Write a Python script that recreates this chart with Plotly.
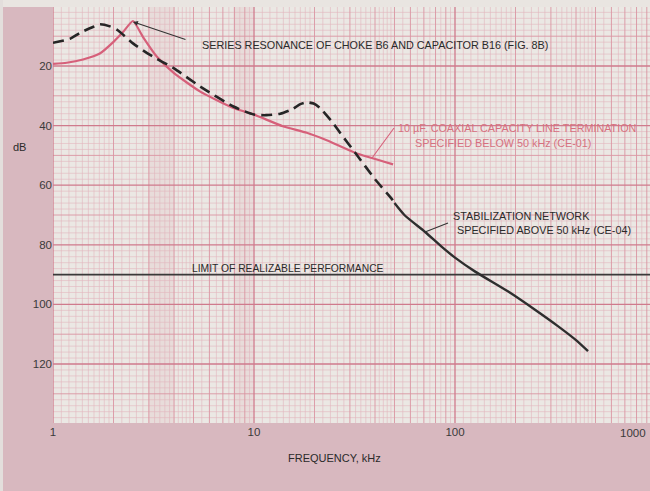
import numpy as np
import plotly.graph_objects as go

# ---------------- data ----------------
dashed_freq = [1, 1.22, 1.36, 1.58, 1.71, 1.92, 2.1, 2.5, 3.04, 4.0, 5.4, 7.9, 10,
               11.5, 13.5, 15.6, 17.0, 18.3, 19.8, 21.3, 24.7, 26.8, 31.8, 40, 48.6, 50]
dashed_db = [12.2, 10.8, 8.9, 6.9, 6.0, 6.7, 8.0, 12.4, 16.3, 20.8, 26.9, 33.6, 36.3,
             36.5, 36.0, 34.4, 32.8, 32.2, 32.6, 34.1, 39.1, 42.4, 49.0, 58.0, 64.7, 66.0]

solid_freq = [50, 56, 71, 86, 100, 126, 184, 250, 325, 400, 459]
solid_db = [66.0, 70.0, 75.7, 80.7, 84.3, 89.0, 95.7, 101.8, 107.3, 112.0, 115.7]

coax_freq = [1, 1.17, 1.41, 1.71, 2.0, 2.23, 2.5, 2.8, 3.29, 4.0, 5.4, 7.9, 10,
             13.9, 18.3, 23.0, 31.8, 49.2]
coax_db = [19.3, 18.9, 17.8, 15.8, 11.9, 8.6, 4.9, 10.2, 16.9, 22.4, 28.6, 34.1, 36.3,
           40.2, 42.4, 44.9, 49.1, 53.0]

limit_db = 90
x_tick_vals = [1, 10, 100]
x_tick_text = ["1", "10", "100"]
y_tick_vals = [20, 40, 60, 80, 100, 120]
y_tick_text = ["20", "40", "60", "80", "100", "120"]

# ---------------- geometry helpers ----------------
W, H = 650, 491
L, R, T, B = 53, 0, 7, 68
PW, PH = W - L - R, H - T - B
XMAX_LOG = PW / 201.0
Y_TOP, Y_BOT = 0.2, 139.8


def px(x):
    return (x - L) / PW


def py(y):
    return (H - B - y) / PH


fig = go.Figure()

# ---------------- graph paper grid ----------------
def vlines(vals):
    xs, ys = [], []
    for v in vals:
        xs += [v, v, None]
        ys += [Y_BOT, Y_TOP, None]
    return xs, ys


def hlines(vals):
    xs, ys = [], []
    for v in vals:
        xs += [1, 10 ** XMAX_LOG, None]
        ys += [v, v, None]
    return xs, ys


minor_m = [m for m in np.arange(1.1, 2.0, 0.1)]
minor_m += [m for m in np.arange(2.2, 5.0, 0.2) if abs(m - round(m)) > 0.05]
minor_m += [m for m in np.arange(5.5, 10.0, 1.0)]
medium_m = [2, 3, 4, 5, 6, 7, 8, 9]
decades = [1, 10, 100]

v_minor = [d * m for d in decades for m in minor_m]
v_medium = [d * m for d in decades for m in medium_m]
v_major = [1, 10, 100, 1000]

h_minor = [v for v in range(0, 142, 2) if v % 10]
h_medium = [v for v in range(10, 142, 20)]
h_major = [v for v in range(0, 142, 20)]

grid_specs = [
    (vlines(v_minor), "#e3b6be", 0.6),
    (hlines(h_minor), "#e3b6be", 0.6),
    (vlines(v_medium), "#da95a3", 0.9),
    (hlines(h_medium), "#da95a3", 0.9),
    (vlines(v_major), "#cf7a8c", 1.3),
    (hlines(h_major), "#cf7a8c", 1.3),
]
for (xs, ys), col, w in grid_specs:
    fig.add_trace(go.Scatter(x=xs, y=ys, mode="lines", line=dict(color=col, width=w),
                             hoverinfo="skip", showlegend=False))

# ---------------- data curves ----------------
fig.add_trace(go.Scatter(x=[1, 10 ** XMAX_LOG], y=[limit_db, limit_db], mode="lines",
                         line=dict(color="#3a3a3a", width=1.6), showlegend=False))
fig.add_trace(go.Scatter(x=coax_freq, y=coax_db, mode="lines",
                         line=dict(color="#d6607a", width=2.2, shape="spline", smoothing=0.5),
                         showlegend=False))
fig.add_trace(go.Scatter(x=dashed_freq, y=dashed_db, mode="lines",
                         line=dict(color="#262626", width=2.6, dash="11px,6px",
                                   shape="spline", smoothing=0.6),
                         showlegend=False))
fig.add_trace(go.Scatter(x=solid_freq, y=solid_db, mode="lines",
                         line=dict(color="#2e2e2e", width=2.4, shape="spline", smoothing=0.6),
                         showlegend=False))

# ---------------- text ----------------
FONT = "Liberation Sans"
anns = []


def txt(x, y, s, color="#2a2a2a", size=10.8, anchor="left"):
    anns.append(dict(x=px(x), y=py(y), xref="paper", yref="paper", text=s, showarrow=False,
                     xanchor=anchor, yanchor="middle",
                     font=dict(family=FONT, size=size, color=color)))


txt(200, 45, "SERIES RESONANCE OF CHOKE B6 AND CAPACITOR B16 (FIG. 8B)")
txt(396, 128, "10 \u00b5F. COAXIAL CAPACITY LINE TERMINATION", color="#d6707f")
txt(413, 143, "SPECIFIED BELOW 50 kHz (CE-01)", color="#d6707f")
txt(451, 216, "STABILIZATION NETWORK")
txt(455, 230, "SPECIFIED ABOVE 50 kHz (CE-04)")
txt(190, 268, "LIMIT OF REALIZABLE PERFORMANCE", size=10.3)
txt(334, 458, "FREQUENCY, kHz", size=11, anchor="center")
txt(19, 147, "dB", size=11, anchor="center")
txt(648, 433, "1000", size=11.5, color="#3a3a3a", anchor="right")

# arrow to resonance peak
anns.append(dict(x=np.log10(2.5), y=5.2, xref="x", yref="y", text="", showarrow=True,
                 ax=54, ay=18, axref="pixel", ayref="pixel", arrowhead=2, arrowsize=0.9,
                 arrowwidth=1.1, arrowcolor="#333333"))

shapes = [
    dict(type="rect", xref="paper", yref="paper", x0=px(0), x1=px(W), y0=1.0, y1=py(0),
         fillcolor="#e9e5e1", line=dict(width=0), layer="below"),
    dict(type="rect", xref="paper", yref="paper", x0=px(0), x1=px(3), y0=py(H), y1=py(0),
         fillcolor="#e3dedc", line=dict(width=0), layer="below"),
    dict(type="line", xref="paper", yref="paper", x0=px(394), y0=py(128), x1=px(372), y1=py(158),
         line=dict(color="#d6607a", width=1.1)),
    dict(type="line", xref="paper", yref="paper", x0=px(448), y0=py(223), x1=px(425), y1=py(232),
         line=dict(color="#333333", width=1.1)),
]
for a, b in [(148, 175), (233, 253)]:
    shapes.append(dict(type="rect", xref="paper", yref="paper", x0=px(a), x1=px(b), y0=0, y1=1,
                       fillcolor="rgba(205,120,140,0.10)", line=dict(width=0), layer="below"))

fig.update_layout(
    width=W, height=H,
    margin=dict(l=L, r=R, t=T, b=B, autoexpand=False),
    paper_bgcolor="#d8b8bf",
    plot_bgcolor="#ebe8e4",
    annotations=anns,
    shapes=shapes,
    showlegend=False,
    xaxis=dict(type="log", range=[0, XMAX_LOG], showgrid=False, zeroline=False,
               tickvals=x_tick_vals, ticktext=x_tick_text, ticks="", automargin=False,
               tickfont=dict(family=FONT, size=11.5, color="#3a3a3a"), showline=False),
    yaxis=dict(range=[Y_BOT, Y_TOP], showgrid=False, zeroline=False,
               tickvals=y_tick_vals, ticktext=y_tick_text, ticks="", automargin=False,
               tickfont=dict(family=FONT, size=11.5, color="#3a3a3a"), showline=False),
)

fig.write_html("out.html", config={"displayModeBar": False},
               post_script="document.body.style.margin='0';document.body.style.overflow='hidden';")
